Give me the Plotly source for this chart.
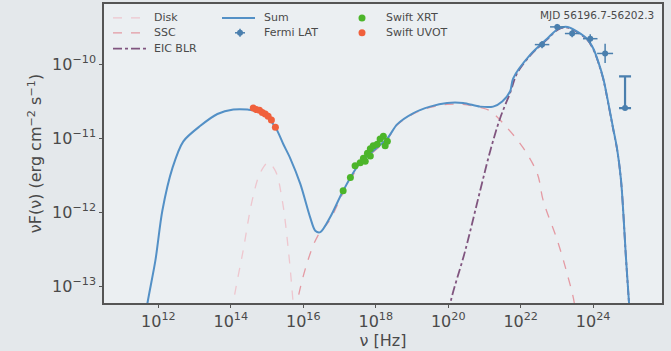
import plotly.graph_objects as go

# ---- data (log10 values) ----
sum_lx = [11.55, 11.70, 11.92, 12.11, 12.39, 12.69, 13.16, 13.63, 14.07, 14.46, 14.87, 15.23, 15.45,
          15.64, 15.92, 16.19, 16.33, 16.47, 16.74, 17.10, 17.57, 18.32, 18.59, 19.03, 19.50, 19.97,
          20.41, 20.88, 21.24, 21.49, 21.71, 21.79, 22.26, 22.73, 23.05, 23.30, 23.55, 23.83, 24.00,
          24.14, 24.28, 24.41, 24.55, 24.66, 24.77, 24.91, 24.99, 25.05]
sum_ly = [-13.70, -13.23, -12.65, -11.98, -11.40, -11.04, -10.83, -10.67, -10.61, -10.61, -10.65, -10.85,
          -11.08, -11.27, -11.62, -12.07, -12.25, -12.27, -12.07, -11.71, -11.33, -11.00, -10.81, -10.66,
          -10.57, -10.52, -10.52, -10.57, -10.57, -10.50, -10.36, -10.19, -9.87, -9.65, -9.51, -9.49,
          -9.55, -9.65, -9.78, -9.96, -10.19, -10.50, -10.86, -11.14, -11.57, -12.65, -13.23, -13.70]

disk_lx = [14.00, 14.07, 14.34, 14.59, 14.81, 15.03, 15.23, 15.42, 15.59, 15.72, 15.78]
disk_ly = [-13.60, -13.23, -12.52, -11.84, -11.47, -11.33, -11.44, -11.84, -12.52, -13.23, -13.60]

ssc_lx = [15.75, 15.83, 16.11, 16.39, 16.74, 17.10, 17.57, 18.32, 18.59, 19.03, 19.50, 19.97, 20.41,
          20.88, 21.16, 21.63, 22.07, 22.46, 22.62, 23.01, 23.28, 23.48, 23.55]
ssc_ly = [-13.60, -13.23, -12.68, -12.33, -12.10, -11.74, -11.36, -11.01, -10.82, -10.67, -10.58, -10.54,
          -10.54, -10.58, -10.63, -10.86, -11.13, -11.48, -11.84, -12.38, -12.83, -13.23, -13.60]

eic_lx = [19.95, 20.06, 20.47, 20.88, 21.16, 21.43, 21.71, 21.90, 22.26, 22.73, 23.05, 23.30, 23.55,
          23.83, 24.00, 24.14, 24.28, 24.41, 24.55, 24.66, 24.77, 24.91, 24.99, 25.05]
eic_ly = [-13.60, -13.23, -12.52, -11.71, -11.17, -10.73, -10.38, -10.12, -9.88, -9.66, -9.52, -9.50,
          -9.56, -9.66, -9.79, -9.97, -10.20, -10.51, -10.87, -11.15, -11.58, -12.66, -13.24, -13.70]

fermi_lx = [22.59, 23.01, 23.42, 23.92, 24.33]
fermi_ly = [-9.73, -9.49, -9.58, -9.65, -9.85]
fermi_xerr_dex = [0.2, 0.2, 0.2, 0.2, 0.22]
fermi_yerr_dex = [0.05, 0.04, 0.05, 0.06, 0.13]

ul_lx = [24.88]
ul_ly = [-10.59]
ul_top_ly = [-10.16]

xrt_lx = [17.10, 17.30, 17.43, 17.57, 17.66, 17.77, 17.85, 17.93, 18.04, 18.12, 18.21, 18.32, 18.26, 17.85, 17.71]
xrt_ly = [-11.71, -11.53, -11.37, -11.33, -11.27, -11.20, -11.14, -11.10, -11.08, -11.01, -10.97, -11.04,
          -11.10, -11.24, -11.31]

uvot_lx = [14.62, 14.70, 14.79, 14.87, 14.95, 15.03, 15.12, 15.23]
uvot_ly = [-10.59, -10.61, -10.62, -10.65, -10.67, -10.70, -10.75, -10.85]

x_tick_powers = [12, 14, 16, 18, 20, 22, 24]
y_tick_powers = [-13, -12, -11, -10]
label = "MJD 56196.7-56202.3"
legend_names = ["Disk", "SSC", "EIC BLR", "Sum", "Fermi LAT", "Swift XRT", "Swift UVOT"]


def p(v):
    return [10.0 ** a for a in v]


C_SUM = "#5390c6"
C_FERMI = "#4a7fae"
C_XRT = "#4cb52a"
C_UVOT = "#f0603c"
C_SSC = "#e49aa3"
C_DISK = "#eec6ce"
C_EIC = "#80557f"
TXT = "#4a4a4a"
FONT = "DejaVu Sans"

# plot-area pixel geometry (for placing the hand-drawn legend)
W, H = 671, 351
ML, MR, MT, MB = 104, 9, 2, 48
PW, PH = W - ML - MR, H - MT - MB


def px(x):
    return (x - ML) / PW


def py(y):
    return 1 - (y - MT) / PH


fig = go.Figure()

fig.add_trace(go.Scatter(x=p(disk_lx), y=p(disk_ly), mode="lines", name=legend_names[0],
                         line=dict(color=C_DISK, width=1.3, dash="dash", shape="spline")))
fig.add_trace(go.Scatter(x=p(ssc_lx), y=p(ssc_ly), mode="lines", name=legend_names[1],
                         line=dict(color=C_SSC, width=1.3, dash="dash", shape="spline")))
fig.add_trace(go.Scatter(x=p(eic_lx), y=p(eic_ly), mode="lines", name=legend_names[2],
                         line=dict(color=C_EIC, width=1.8, dash="dashdot", shape="spline")))
fig.add_trace(go.Scatter(x=p(sum_lx), y=p(sum_ly), mode="lines", name=legend_names[3],
                         line=dict(color=C_SUM, width=2, shape="spline", smoothing=0.8)))

fig.add_trace(go.Scatter(
    x=p(fermi_lx), y=p(fermi_ly), mode="markers", name=legend_names[4],
    marker=dict(color=C_FERMI, size=6),
    error_x=dict(type="data", symmetric=False,
                 array=[10.0 ** (a + e) - 10.0 ** a for a, e in zip(fermi_lx, fermi_xerr_dex)],
                 arrayminus=[10.0 ** a - 10.0 ** (a - e) for a, e in zip(fermi_lx, fermi_xerr_dex)],
                 color=C_FERMI, thickness=1.5, width=0),
    error_y=dict(type="data", symmetric=False,
                 array=[10.0 ** (a + e) - 10.0 ** a for a, e in zip(fermi_ly, fermi_yerr_dex)],
                 arrayminus=[10.0 ** a - 10.0 ** (a - e) for a, e in zip(fermi_ly, fermi_yerr_dex)],
                 color=C_FERMI, thickness=1.5, width=0)))

fig.add_trace(go.Scatter(
    x=p(ul_lx), y=p(ul_ly), mode="markers", name="Fermi LAT UL",
    marker=dict(color=C_FERMI, size=6, symbol="circle"),
    error_y=dict(type="data", symmetric=False,
                 array=[10.0 ** t - 10.0 ** b for t, b in zip(ul_top_ly, ul_ly)],
                 arrayminus=[0.0], color=C_FERMI, thickness=2.2, width=6)))

fig.add_trace(go.Scatter(x=p(xrt_lx), y=p(xrt_ly), mode="markers", name=legend_names[5],
                         marker=dict(color=C_XRT, size=7)))
fig.add_trace(go.Scatter(x=p(uvot_lx), y=p(uvot_ly), mode="markers", name=legend_names[6],
                         marker=dict(color=C_UVOT, size=7)))

# ---- legend drawn by hand (matplotlib-style compact rows) ----
shapes = []
annos = []
rows = [16, 31, 47]
leg_font = dict(family=FONT, size=11, color=TXT)


def leg_line(x0, x1, y, color, dash, width):
    shapes.append(dict(type="line", xref="paper", yref="paper", x0=px(x0), x1=px(x1), y0=py(y), y1=py(y),
                       line=dict(color=color, dash=dash, width=width)))


def leg_dot(x, y, color, r):
    shapes.append(dict(type="circle", xref="paper", yref="paper", xsizemode="pixel", ysizemode="pixel",
                       xanchor=px(x), yanchor=py(y), x0=-r, x1=r, y0=-r, y1=r,
                       fillcolor=color, line=dict(width=0)))


def leg_text(x, y, t):
    annos.append(dict(text=t, xref="paper", yref="paper", x=px(x), y=py(y), xanchor="left",
                      yanchor="middle", showarrow=False, font=leg_font))


leg_line(113, 147, rows[0], C_DISK, "dash", 1.3)
leg_line(113, 147, rows[1], C_SSC, "dash", 1.3)
leg_line(113, 147, rows[2], C_EIC, "dashdot", 1.8)
leg_text(152, rows[0], legend_names[0])
leg_text(152, rows[1], legend_names[1])
leg_text(152, rows[2], legend_names[2])

leg_line(222, 255, rows[0], C_SUM, "solid", 2)
leg_line(235, 245, rows[1], C_FERMI, "solid", 1.5)
shapes.append(dict(type="line", xref="paper", yref="paper", x0=px(240), x1=px(240),
                   y0=py(rows[1] - 4), y1=py(rows[1] + 4), line=dict(color=C_FERMI, width=1.5)))
leg_dot(240, rows[1], C_FERMI, 3)
leg_text(262, rows[0], legend_names[3])
leg_text(262, rows[1], legend_names[4])

leg_dot(362, rows[0], C_XRT, 3.5)
leg_dot(362, rows[1], C_UVOT, 3.5)
leg_text(384, rows[0], legend_names[5])
leg_text(384, rows[1], legend_names[6])

annos.append(dict(text=label, xref="paper", yref="paper", x=px(656), y=py(13),
                  xanchor="right", yanchor="middle", showarrow=False,
                  font=dict(family=FONT, size=10.5, color=TXT)))

fig.update_layout(
    width=W, height=H,
    margin=dict(l=ML, r=MR, t=MT, b=MB),
    paper_bgcolor="#e4e8eb",
    plot_bgcolor="#ebeff2",
    font=dict(family=FONT, color=TXT),
    showlegend=False,
    shapes=shapes,
    annotations=annos,
    xaxis=dict(type="log", range=[10.5, 25.9], tickvals=[10.0 ** a for a in x_tick_powers],
               ticktext=[f"10<sup>{a}</sup>" for a in x_tick_powers],
               showgrid=False, zeroline=False, showline=True, linecolor="#555555", linewidth=1.5,
               mirror=True, ticks="outside", ticklen=3, tickcolor="#555555",
               tickfont=dict(family=FONT, size=16, color=TXT),
               title=dict(text="ν [Hz]", font=dict(family=FONT, size=16, color=TXT), standoff=0)),
    yaxis=dict(type="log", range=[-13.23, -9.18], tickvals=[10.0 ** a for a in y_tick_powers],
               ticktext=[f"10<sup>−{abs(a)}</sup>" for a in y_tick_powers],
               showgrid=False, zeroline=False, showline=True, linecolor="#555555", linewidth=1.5,
               mirror=True, ticks="outside", ticklen=3, tickcolor="#555555",
               tickfont=dict(family=FONT, size=16, color=TXT),
               title=dict(text="νF(ν) (erg cm<sup>−2</sup> s<sup>−1</sup>)",
                          font=dict(family=FONT, size=16, color=TXT), standoff=6)),
)

fig.write_html("out.html")
